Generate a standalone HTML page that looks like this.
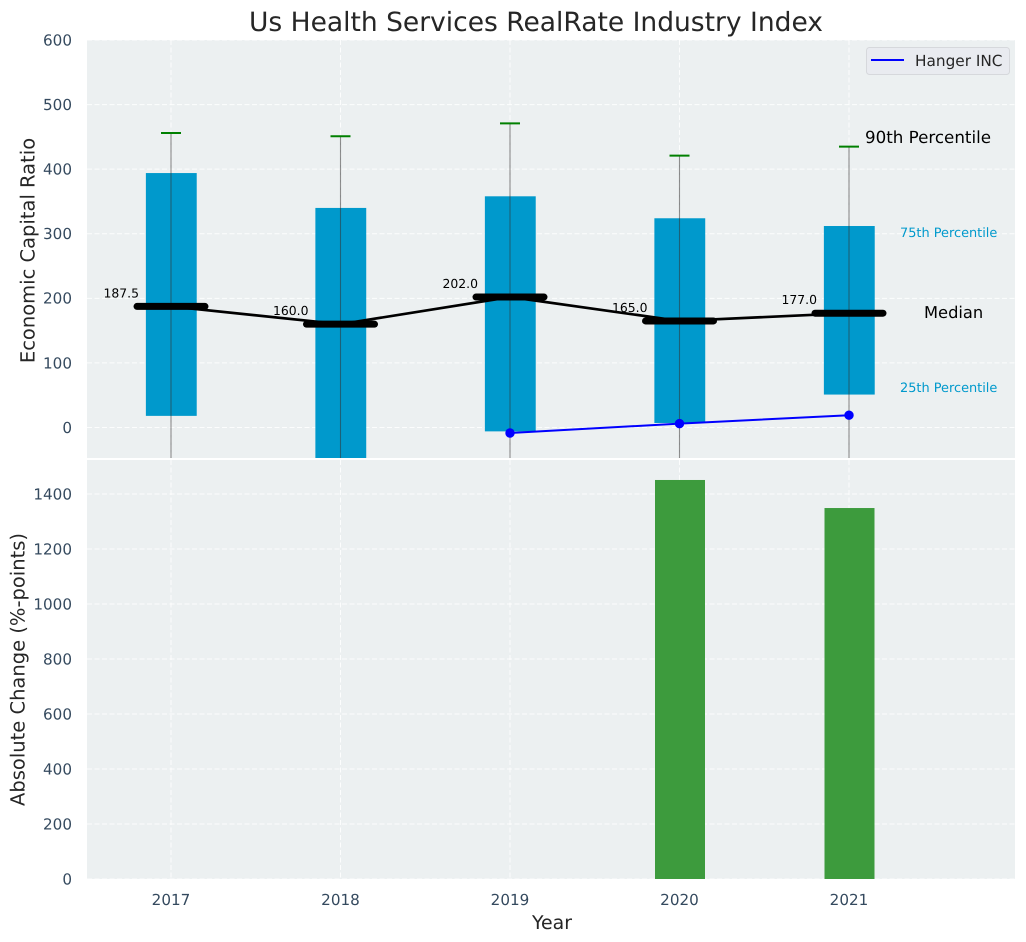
<!DOCTYPE html>
<html>
<head>
<meta charset="utf-8">
<title>Us Health Services RealRate Industry Index</title>
<style>
html,body{margin:0;padding:0;background:#fff;}
svg{display:block;font-family:"DejaVu Sans","Liberation Sans",sans-serif;text-rendering:geometricPrecision;}
</style>
</head>
<body>
<svg id="chart" width="1026" height="942" viewBox="0 0 1026 942" xmlns="http://www.w3.org/2000/svg">
<defs>
<clipPath id="clip-top"><rect x="87" y="40" width="928" height="418"></rect></clipPath>
<clipPath id="clip-bottom"><rect x="87" y="460" width="928" height="419"></rect></clipPath>
</defs>
<rect x="87" y="40" width="928" height="418" fill="#ecf0f1"></rect>
<rect x="87" y="460" width="928" height="419" fill="#ecf0f1"></rect>
<g id="grid"></g>
<g id="top-marks" clip-path="url(#clip-top)"></g>
<g id="bottom-marks" clip-path="url(#clip-bottom)"></g>
<g id="labels"></g>
<text x="536" y="31" text-anchor="middle" font-size="26.5" fill="#262626">Us Health Services RealRate Industry Index</text>
<text transform="translate(34.5 250.5) rotate(-90)" text-anchor="middle" font-size="19.5" fill="#262626">Economic Capital Ratio</text>
<text transform="translate(24.5 669.5) rotate(-90)" text-anchor="middle" font-size="19.5" fill="#262626">Absolute Change (%-points)</text>
<text x="552" y="929" text-anchor="middle" font-size="18.9" fill="#262626">Year</text>
<text x="865" y="143" font-size="16.7" fill="#000">90th Percentile</text>
<text x="900" y="237" font-size="12.9" fill="#0099cc">75th Percentile</text>
<text x="924" y="318" font-size="16.3" fill="#000">Median</text>
<text x="900" y="392" font-size="12.9" fill="#0099cc">25th Percentile</text>
<g>
<rect x="866.5" y="47.5" width="143" height="27" rx="3" fill="#e9ebf0" stroke="#d6d8dc" stroke-width="1"></rect>
<line x1="871" x2="904" y1="60" y2="60" stroke="#0000ff" stroke-width="2"></line>
<text x="915" y="66" font-size="15.3" fill="#262626">Hanger INC</text>
</g>
</svg>
<script>
const years = [2017, 2018, 2019, 2020, 2021];
const p10 = [-120, -130, -110, -115, -120];
const p25 = [18, -60, -6, 7, 51];
const p75 = [394, 340, 358, 324, 312];
const p90 = [456, 451, 471, 421, 435];
const medians = [187.5, 160, 202, 165, 177];
const hanger = [null, null, -8.5, 6, 19];
const changes = [null, null, null, 1451, 1349];
const topTicks = [0, 100, 200, 300, 400, 500, 600];
const bottomTicks = [0, 200, 400, 600, 800, 1000, 1200, 1400];

const NS = 'http://www.w3.org/2000/svg';
const xScale = v => 171 + (v - 2017) * 169.5;
const yTop = v => 427.5 - v * 0.6458;
const yBottom = v => 879 - v * 0.275;

function make(parent, tag, attrs, text) {
  const el = document.createElementNS(NS, tag);
  for (const k in attrs) el.setAttribute(k, attrs[k]);
  if (text !== undefined) el.textContent = text;
  parent.appendChild(el);
  return el;
}
const grid = document.getElementById('grid');
const topMarks = document.getElementById('top-marks');
const bottomMarks = document.getElementById('bottom-marks');
const labels = document.getElementById('labels');
const dash = '5 2.5';
const tickColor = '#34495e';
const tickSize = 15.2;

topTicks.forEach(t => {
  const y = yTop(t);
  const g = make(grid, 'line', {x1: 87, x2: 1015, y1: y, y2: y, stroke: '#fff', 'stroke-width': 1, 'stroke-dasharray': dash, 'stroke-opacity': 0.85});
  
  
  const l = make(labels, 'text', {x: 72, y: y + 5.4, 'text-anchor': 'end', 'font-size': tickSize, fill: tickColor}, String(t));
  
  
});
bottomTicks.forEach(t => {
  const y = yBottom(t);
  const g = make(grid, 'line', {x1: 87, x2: 1015, y1: y, y2: y, stroke: '#fff', 'stroke-width': 1, 'stroke-dasharray': dash, 'stroke-opacity': 0.85});
  
  
  const l = make(labels, 'text', {x: 72, y: y + 5.4, 'text-anchor': 'end', 'font-size': tickSize, fill: tickColor}, String(t));
  
  
});
years.forEach(yr => {
  const x = xScale(yr);
  const g1 = make(grid, 'line', {x1: x, x2: x, y1: 40, y2: 458, stroke: '#fff', 'stroke-width': 1, 'stroke-dasharray': dash, 'stroke-opacity': 0.85});
  
  
  const g2 = make(grid, 'line', {x1: x, x2: x, y1: 460, y2: 879, stroke: '#fff', 'stroke-width': 1, 'stroke-dasharray': dash, 'stroke-opacity': 0.85});
  
  
  const l = make(labels, 'text', {x: x, y: 905, 'text-anchor': 'middle', 'font-size': tickSize, fill: tickColor}, String(yr));
  
  
});

const halfBar = 0.15 * 169.5;
years.forEach((yr, i) => {
  const x = xScale(yr);
  const top = yTop(p75[i]);
  const bot = yTop(p25[i]);
  const bar = make(topMarks, 'rect', {x: x - halfBar + 0.3, y: top, width: halfBar * 2, height: bot - top, fill: '#0099cc'});
  
  
});
years.forEach((yr, i) => {
  const x = xScale(yr);
  const w = make(topMarks, 'line', {x1: x, x2: x, y1: yTop(p90[i]), y2: yTop(p10[i]), stroke: '#333', 'stroke-opacity': 0.55, 'stroke-width': 1.1});
  
  
  const c = make(topMarks, 'line', {x1: x - 10, x2: x + 10, y1: yTop(p90[i]), y2: yTop(p90[i]), stroke: '#008000', 'stroke-width': 2});
  
  
});
const medLine = make(topMarks, 'polyline', {points: years.map((yr, i) => xScale(yr) + ',' + yTop(medians[i])).join(' '), fill: 'none', stroke: '#000', 'stroke-width': 2.7});


years.forEach((yr, i) => {
  const x = xScale(yr);
  const y = yTop(medians[i]);
  const m = make(topMarks, 'line', {x1: x - 34, x2: x + 34, y1: y, y2: y, stroke: '#000', 'stroke-width': 7, 'stroke-linecap': 'round'});
  
  
  const l = make(labels, 'text', {x: x - 32, y: y - 9, 'text-anchor': 'end', 'font-size': 12.4, fill: '#000'}, medians[i].toFixed(1));
  
  
});
const hangerPts = years.map((yr, i) => hanger[i] === null ? null : [xScale(yr), yTop(hanger[i])]).filter(Boolean);
const hLine = make(topMarks, 'polyline', {points: hangerPts.map(p => p.join(',')).join(' '), fill: 'none', stroke: '#0000ff', 'stroke-width': 2});


hangerPts.forEach(p => {
  const d = make(topMarks, 'circle', {cx: p[0], cy: p[1], r: 4.7, fill: '#0000ff'});
  
  
});
const halfGreen = 25;
years.forEach((yr, i) => {
  if (changes[i] === null) return;
  const x = xScale(yr);
  const top = yBottom(changes[i]);
  const b = make(bottomMarks, 'rect', {x: x - halfGreen + 0.5, y: top, width: halfGreen * 2, height: yBottom(0) - top, fill: '#3d9b3d'});
  
  
});
</script>
</body>
</html>
